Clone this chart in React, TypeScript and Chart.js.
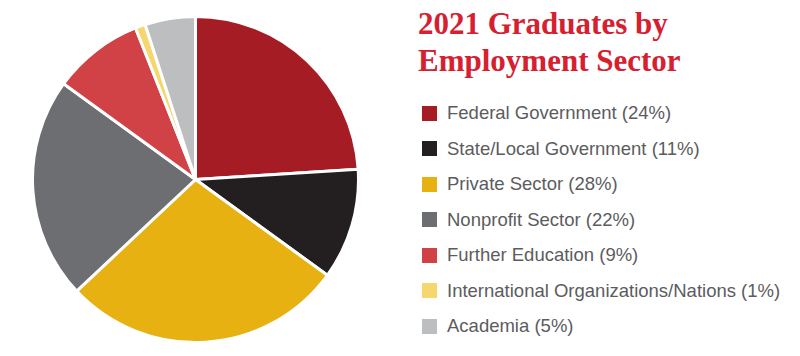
import React, { useEffect, useRef } from "react";
import { Chart, registerables } from "chart.js";

Chart.register(...registerables);

const categories = [
  "Federal Government",
  "State/Local Government",
  "Private Sector",
  "Nonprofit Sector",
  "Further Education",
  "International Organizations/Nations",
  "Academia",
];
const shares = [24, 11, 28, 22, 9, 1, 5];
const colors = ["#a61c24", "#231f20", "#e6b111", "#6d6e71", "#d04246", "#f5d76e", "#bcbec0"];
const titleLines = ["2021 Graduates by", "Employment Sector"];

export default function App() {
  const ref = useRef<HTMLCanvasElement | null>(null);

  useEffect(() => {
    if (!ref.current) return;
    const chart = new Chart(ref.current, {
      type: "pie",
      data: {
        labels: categories,
        datasets: [
          {
            data: shares,
            backgroundColor: colors,
            borderColor: "#ffffff",
            borderWidth: 3,
          },
        ],
      },
      options: {
        animation: false,
        responsive: false,
        maintainAspectRatio: false,
        layout: { padding: 0 },
        plugins: {
          legend: { display: false },
          tooltip: { enabled: false },
        },
      },
    });
    return () => chart.destroy();
  }, []);

  return (
    <div style={{ position: "absolute", left: 0, top: 0, width: 800, height: 356, background: "#fff", overflow: "hidden" }}>
      <canvas ref={ref} width={329} height={329} style={{ position: "absolute", left: 31, top: 15, width: 329, height: 329 }} />
      <div
        style={{
          position: "absolute",
          left: 418,
          top: 5,
          fontFamily: "'Liberation Serif', serif",
          fontWeight: "bold",
          fontSize: 31,
          lineHeight: "37px",
          color: "#d6202f",
          whiteSpace: "nowrap",
        }}
      >
        {titleLines.map((t) => (
          <div key={t}>{t}</div>
        ))}
      </div>
      {categories.map((c, i) => (
        <div
          key={c}
          style={{
            position: "absolute",
            left: 422,
            top: 113 + i * 35.5 - 10,
            height: 20,
            display: "flex",
            alignItems: "center",
            whiteSpace: "nowrap",
          }}
        >
          <span style={{ display: "inline-block", width: 15, height: 15, background: colors[i], marginRight: 10 }} />
          <span style={{ fontFamily: "'Liberation Sans', Arial, sans-serif", fontSize: 18.5, color: "#5b5c5e" }}>
            {c} ({shares[i]}%)
          </span>
        </div>
      ))}
    </div>
  );
}
